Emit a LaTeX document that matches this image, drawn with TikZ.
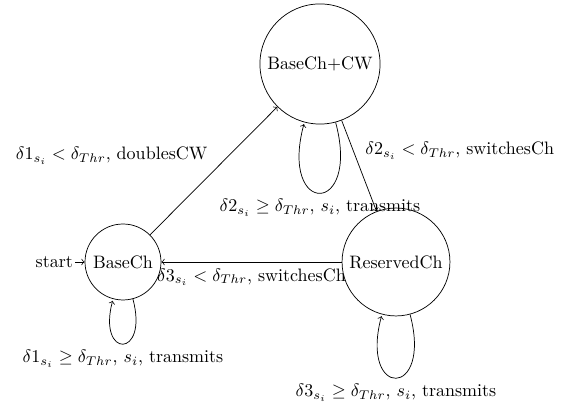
\documentclass[tikz,border=0pt]{standalone}
\usetikzlibrary{automata}
\begin{document}
\begin{tikzpicture}[x=0.5556pt,y=0.5556pt,>=to,
  lbl/.style={inner sep=3.33pt}]
\useasboundingbox (0,0) rectangle (569,409);
\node[state] (B) at (123,147) {BaseCh};
\node[state] (C) at (320,345) {BaseCh+CW};
\node[state] (R) at (396,147) {ReservedCh};
\node[inner sep=1pt,anchor=east] (S) at (75,147) {start};
\draw[->] (S) -- (B);
\path[->]
  (B) edge node[lbl,above left] {$\delta1_{s_i} < \delta_{Thr}$, doublesCW} (C)
  (C) edge[loop below] node[lbl] {$\delta2_{s_i} \geq \delta_{Thr}$, $s_i$, transmits} ()
  (C) edge node[lbl,above right] {$\delta2_{s_i} < \delta_{Thr}$, switchesCh} (R)
  (R) edge node[lbl,below] {$\delta3_{s_i} < \delta_{Thr}$, switchesCh} (B)
  (B) edge[loop below] node[lbl] {$\delta1_{s_i} \geq \delta_{Thr}$, $s_i$, transmits} ()
  (R) edge[loop below] node[lbl] {$\delta3_{s_i} \geq \delta_{Thr}$, $s_i$, transmits} ();
\end{tikzpicture}
\end{document}
